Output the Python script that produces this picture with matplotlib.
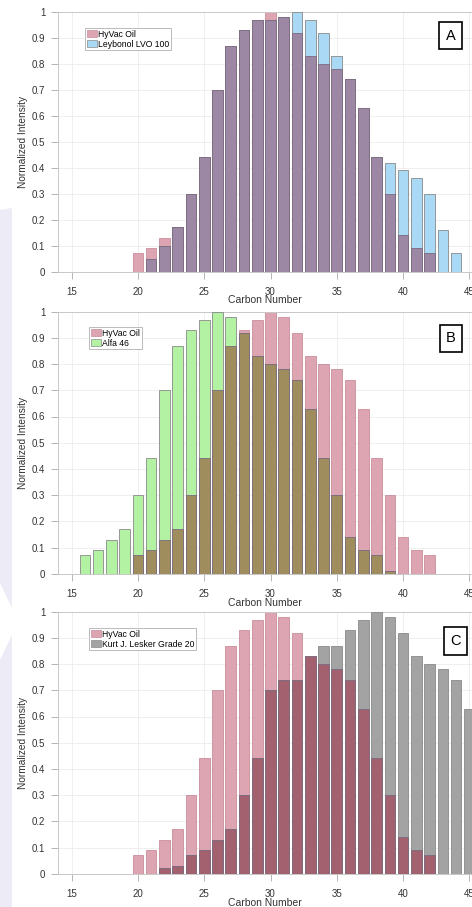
import numpy as np
import matplotlib
matplotlib.use("Agg")
import matplotlib.pyplot as plt
from matplotlib.patches import Patch, Polygon

plt.rcParams['font.family'] = ['Liberation Sans', 'DejaVu Sans']

# carbon numbers shared by all three panels
carbon = np.arange(15, 46)

# HyVac Oil reference distribution (used in every panel)
hyvac = [0, 0, 0, 0, 0, 0.07, 0.09, 0.13, 0.17, 0.30, 0.44, 0.70, 0.87, 0.93, 0.97, 1.00,
         0.98, 0.92, 0.83, 0.80, 0.78, 0.74, 0.63, 0.44, 0.30, 0.14, 0.09, 0.07, 0, 0, 0]

leybonol = [0, 0, 0, 0, 0, 0, 0.05, 0.10, 0.17, 0.30, 0.44, 0.70, 0.87, 0.93, 0.97, 0.97,
            0.98, 1.00, 0.97, 0.92, 0.83, 0.74, 0.63, 0.44, 0.42, 0.39, 0.36, 0.30, 0.16, 0.07, 0]

alfa46 = [0, 0.07, 0.09, 0.13, 0.17, 0.30, 0.44, 0.70, 0.87, 0.93, 0.97, 1.00, 0.98, 0.92,
          0.83, 0.80, 0.78, 0.74, 0.63, 0.44, 0.30, 0.14, 0.09, 0.07, 0.01, 0, 0, 0, 0, 0, 0]

lesker = [0, 0, 0, 0, 0, 0, 0, 0.02, 0.03, 0.07, 0.09, 0.13, 0.17, 0.30, 0.44, 0.70,
          0.74, 0.74, 0.83, 0.87, 0.87, 0.93, 0.97, 1.00, 0.98, 0.92, 0.83, 0.80, 0.78, 0.74, 0.63]

panels = [
    ("A", "Leybonol LVO 100", leybonol, '#a9d9f4', '#9c88a4'),
    ("B", "Alfa 46", alfa46, '#b3f2a3', '#9f8d5d'),
    ("C", "Kurt J. Lesker Grade 20", lesker, '#a3a3a3', '#a3606f'),
]
pink = '#dda4b1'

W, H = 472, 907
fig = plt.figure(figsize=(W / 100, H / 100), dpi=100)

# faint lavender slide background on the left edge
def px(pts):
    return [(x / W, 1 - y / H) for x, y in pts]

fig.add_artist(Polygon(px([(0, 210), (12, 208), (12, 608), (0, 583)]),
                       closed=True, transform=fig.transFigure, color='#ecebf6', lw=0, zorder=0))
fig.add_artist(Polygon(px([(0, 660), (12, 635), (12, 907), (0, 907)]),
                       closed=True, transform=fig.transFigure, color='#ecebf6', lw=0, zorder=0))

# axes boxes in pixels: top of y=1 and y=0 line
boxes = [(12, 271.5), (311.7, 573.7), (611.7, 873.7)]
legend_pos = [(85, 28), (89, 327), (89, 628)]
tag_pos = [(450.5, 35.5), (451, 338.5), (455.5, 641)]
left, right = 58, 472

for i, (tag, name, other, col, overlap) in enumerate(panels):
    top, bot = boxes[i]
    ax = fig.add_axes([left / W, 1 - bot / H, (right - left) / W, (bot - top) / H])

    hv = np.array(hyvac)
    ot = np.array(other)
    both = np.minimum(hv, ot)

    ax.bar(carbon, hv, width=0.8, color=pink, edgecolor='#c98d9c', lw=0.6, zorder=2)
    ax.bar(carbon, ot, width=0.8, color=col, edgecolor='#8a8a8a', lw=0.6, zorder=3)
    ax.bar(carbon, both, width=0.8, color=overlap, edgecolor='#7a6a7e', lw=0.6, zorder=4)

    ax.set_xlim(13.97, 45.2)
    ax.set_ylim(0, 1)
    ax.set_xticks([15, 20, 25, 30, 35, 40, 45])
    ax.set_yticks(np.arange(0, 1.01, 0.1))
    ax.set_yticklabels(['0', '0.1', '0.2', '0.3', '0.4', '0.5', '0.6', '0.7', '0.8', '0.9', '1'])
    ax.grid(True, color='#ececec', lw=0.6, zorder=0)
    ax.set_axisbelow(True)
    for s in ['top', 'left', 'bottom']:
        ax.spines[s].set_color('#c8c8c8')
        ax.spines[s].set_linewidth(0.7)
    ax.spines['right'].set_visible(False)
    ax.tick_params(axis='x', length=5, width=0.6, color='#aaaaaa', labelsize=7,
                   labelcolor='#333333', pad=6)
    ax.tick_params(axis='y', length=5, width=0.6, color='#aaaaaa', labelsize=7,
                   labelcolor='#333333', pad=4)

    ax.set_xlabel("Carbon Number", fontsize=7.5, color='#333333', labelpad=-1)
    ax.set_ylabel("Normalized Intensity", fontsize=7.3, color='#333333', labelpad=3)

    lx, ly = legend_pos[i]
    handles = [Patch(facecolor=pink, edgecolor='#c98d9c', lw=0.5),
               Patch(facecolor=col, edgecolor='#8a8a8a', lw=0.5)]
    leg = ax.legend(handles, ["HyVac Oil", name], loc='upper left',
                    bbox_to_anchor=((lx - left) / (right - left), 1 - (ly - top) / (bot - top)),
                    borderaxespad=0, fontsize=6.2, frameon=True, fancybox=False,
                    handlelength=1.2, handleheight=0.9, handletextpad=0.1,
                    borderpad=0.2, labelspacing=0.1, framealpha=1)
    leg.get_frame().set_edgecolor('#b0b0b0')
    leg.get_frame().set_linewidth(0.6)

    tx, ty = tag_pos[i]
    ax.text((tx - left) / (right - left), 1 - (ty - top) / (bot - top), tag,
            transform=ax.transAxes, fontsize=10.5, ha='center', va='center', zorder=10,
            bbox=dict(boxstyle='square,pad=0.45', facecolor='white', edgecolor='black', lw=1.2))

fig.savefig("out.png", dpi=100)
